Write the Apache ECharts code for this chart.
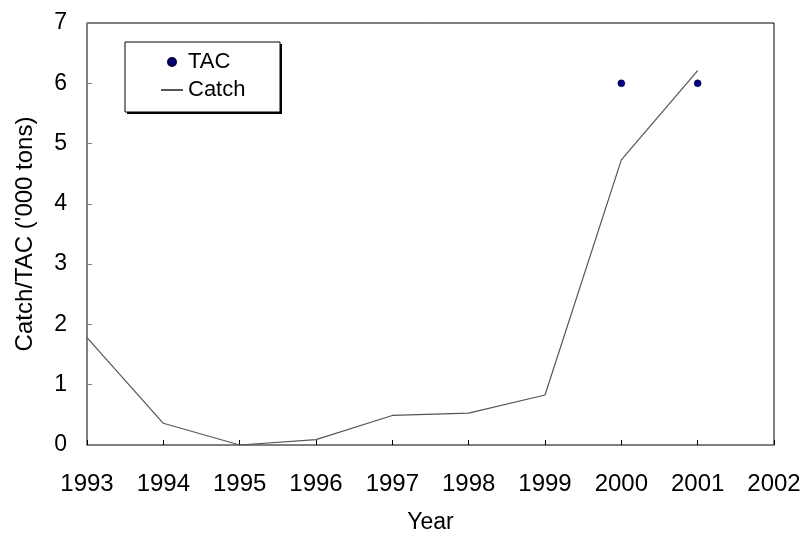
<!DOCTYPE html>
<html lang="en">
<head>
  <meta charset="UTF-8">
  <title>Catch and TAC</title>
  <script src="https://cdn.jsdelivr.net/npm/echarts@6/dist/echarts.min.js"></script>
  <style>
    body { margin: 0; padding: 0; background: #fff; }
    #chart { width: 804px; height: 539px; }
  </style>
</head>
<body>
<div id="chart"></div>
<script>
  // data
  const catchYears = [1993, 1994, 1995, 1996, 1997, 1998, 1999, 2000, 2001];
  const catchValues = [1.78, 0.36, 0.0, 0.09, 0.49, 0.53, 0.83, 4.73, 6.21];
  const tacYears = [2000, 2001];
  const tacValues = [6.0, 6.0];

  const font = 'Arial, "Liberation Sans", sans-serif';

  const chart = echarts.init(document.getElementById('chart'));

  chart.setOption({
    animation: false,
    grid: {
      left: 87, right: 30, top: 23, bottom: 93,
      show: true,
      borderColor: '#000',
      borderWidth: 1,
      backgroundColor: '#fff'
    },
    // legend frame with a hard drop shadow
    graphic: [
      { type: 'rect', z: 90, shape: { x: 127, y: 44, width: 155, height: 70 }, style: { fill: '#000' } },
      { type: 'rect', z: 91, shape: { x: 125, y: 42, width: 155, height: 70 },
        style: { fill: '#fff', stroke: '#000', lineWidth: 1 } }
    ],
    legend: {
      orient: 'vertical',
      left: 160,
      top: 51,
      z: 100,
      padding: 0,
      itemGap: 6,
      itemWidth: 22,
      itemHeight: 8,
      textStyle: { fontFamily: font, fontSize: 22, color: '#000' },
      data: [
        { name: 'TAC', icon: 'circle' },
        { name: 'Catch', itemStyle: { color: 'transparent', borderWidth: 0 } }
      ]
    },
    xAxis: {
      type: 'value',
      min: 1993,
      max: 2002,
      interval: 1,
      name: 'Year',
      nameLocation: 'middle',
      nameGap: 66,
      nameTextStyle: { fontFamily: font, fontSize: 23, color: '#000' },
      axisLine: { show: true, lineStyle: { color: '#808080', width: 1.5 } },
      axisTick: { show: true, inside: true, length: 5, lineStyle: { color: '#000' } },
      axisLabel: { fontFamily: font, fontSize: 24, color: '#000', margin: 27, formatter: v => String(v) },
      splitLine: { show: false }
    },
    yAxis: {
      type: 'value',
      min: 0,
      max: 7,
      interval: 1,
      name: "Catch/TAC ('000 tons)",
      nameLocation: 'middle',
      nameGap: 50,
      nameTextStyle: { fontFamily: font, fontSize: 24, color: '#000' },
      axisLine: { show: true, lineStyle: { color: '#808080', width: 1.5 } },
      axisTick: { show: true, inside: true, length: 5, lineStyle: { color: '#808080' } },
      axisLabel: { fontFamily: font, fontSize: 23, color: '#000', margin: 20 },
      splitLine: { show: false }
    },
    series: [
      {
        name: 'TAC',
        type: 'scatter',
        symbol: 'circle',
        symbolSize: 7,
        itemStyle: { color: '#000080', opacity: 1, borderColor: '#000040', borderWidth: 0.5 },
        data: tacYears.map((y, i) => [y, tacValues[i]])
      },
      {
        name: 'Catch',
        type: 'line',
        showSymbol: false,
        symbol: 'none',
        lineStyle: { color: '#555', width: 1.2 },
        itemStyle: { color: '#555' },
        data: catchYears.map((y, i) => [y, catchValues[i]])
      }
    ]
  });
</script>
</body>
</html>
